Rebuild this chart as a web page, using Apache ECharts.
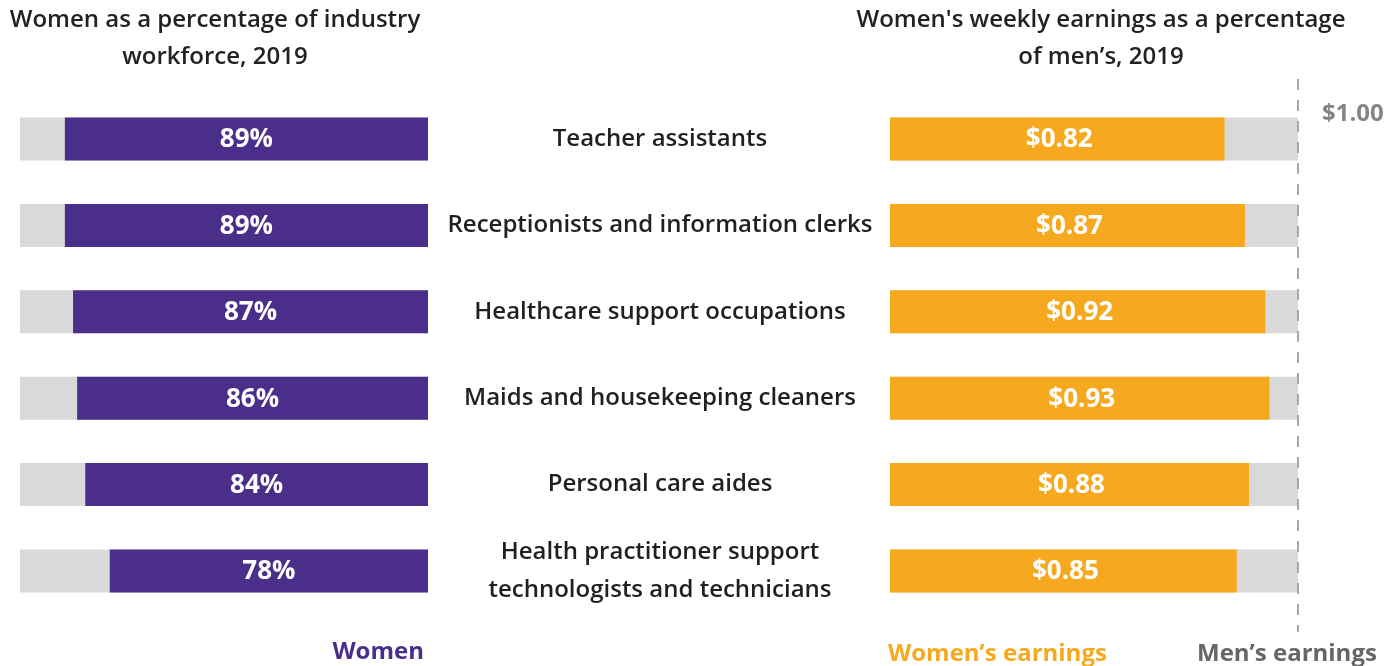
<!DOCTYPE html>
<html>
<head>
<meta charset="utf-8">
<script src="https://cdn.jsdelivr.net/npm/echarts@6/dist/echarts.min.js"></script>
<style>
html,body{margin:0;padding:0;background:#fff;}
#chart{width:1400px;height:666px;}
</style>
</head>
<body>
<div id="chart"></div>
<script>
const categories = [
  'Teacher assistants',
  'Receptionists and information clerks',
  'Healthcare support occupations',
  'Maids and housekeeping cleaners',
  'Personal care aides',
  'Health practitioner support\ntechnologists and technicians'
];
const womenPct = [89, 89, 87, 86, 84, 78];
const womenEarnings = [0.82, 0.87, 0.92, 0.93, 0.88, 0.85];
const menEarnings = [1, 1, 1, 1, 1, 1];
const menValue = 1.00;

const FONT = "'Open Sans', sans-serif";
const PURPLE = '#4a2e89';
const ORANGE = '#f6a91f';
const GRAY = '#d9d9d9';

const chart = echarts.init(document.getElementById('chart'));
const barLabel = {
  show: true, position: 'inside', color: '#fff',
  fontFamily: FONT, fontWeight: 'bold', fontSize: 26
};
chart.setOption({
  animation: false,
  textStyle: { fontFamily: FONT },
  title: [
    { text: 'Women as a percentage of industry\nworkforce, 2019', left: 215, top: 2, padding: 0, textAlign: 'center',
      textStyle: { fontFamily: FONT, fontWeight: 600, fontSize: 24, lineHeight: 37, color: '#222' } },
    { text: "Women's weekly earnings as a percentage\nof men’s, 2019", left: 1101, top: 2, padding: 0, textAlign: 'center',
      textStyle: { fontFamily: FONT, fontWeight: 600, fontSize: 24, lineHeight: 37, color: '#222' } }
  ],
  legend: [
    { data: [{ name: 'Women', textStyle: { color: PURPLE } }], right: 976, top: 640, padding: 0,
      itemWidth: 0, itemHeight: 0, icon: 'none', selectedMode: false,
      textStyle: { fontFamily: FONT, fontWeight: 'bold', fontSize: 24 } },
    { data: [{ name: 'Women’s earnings', textStyle: { color: ORANGE } }], left: 883, top: 642, padding: 0,
      itemWidth: 0, itemHeight: 0, icon: 'none', selectedMode: false,
      textStyle: { fontFamily: FONT, fontWeight: 'bold', fontSize: 24 } },
    { data: [{ name: 'Men’s earnings', textStyle: { color: '#666' } }], left: 1192, top: 642, padding: 0,
      itemWidth: 0, itemHeight: 0, icon: 'none', selectedMode: false,
      textStyle: { fontFamily: FONT, fontWeight: 'bold', fontSize: 24 } }
  ],
  grid: [
    { left: 20, right: 972, top: 95.8, bottom: 51.8 },
    { left: 890, right: 102, top: 95.8, bottom: 51.8 },
    { left: 890, right: 102, top: 79, bottom: 34 }
  ],
  xAxis: [
    { gridIndex: 0, type: 'value', min: 0, max: 100, inverse: true, show: false },
    { gridIndex: 1, type: 'value', min: 0, max: 1, show: false },
    { gridIndex: 2, type: 'value', min: 0, max: 1, interval: 1, z: 10,
      axisLine: { show: false }, axisTick: { show: false }, axisLabel: { show: false },
      splitLine: { show: true, lineStyle: { color: ['rgba(0,0,0,0)', '#a8a8a8'], type: [11, 10], width: 2 } } }
  ],
  yAxis: [
    { gridIndex: 0, type: 'category', data: categories, inverse: true, position: 'right',
      axisLine: { show: false }, axisTick: { show: false }, splitLine: { show: false },
      axisLabel: { margin: 232, align: 'center', fontFamily: FONT, fontWeight: 600, fontSize: 24,
        lineHeight: 38, color: '#231f20', padding: [10, 0, 0, 0] } },
    { gridIndex: 1, type: 'category', data: categories, inverse: true, show: false },
    { gridIndex: 2, type: 'value', min: 0, max: 1, show: false }
  ],
  series: [
    { name: 'Women', type: 'bar', xAxisIndex: 0, yAxisIndex: 0, data: womenPct, barWidth: 43,
      itemStyle: { color: PURPLE }, showBackground: true, backgroundStyle: { color: GRAY },
      label: Object.assign({}, barLabel, { formatter: p => p.value + '%', offset: [0, 1] }) },
    { name: 'Men’s earnings', type: 'bar', xAxisIndex: 1, yAxisIndex: 1, data: menEarnings, barWidth: 43,
      itemStyle: { color: GRAY } },
    { name: 'Women’s earnings', type: 'bar', xAxisIndex: 1, yAxisIndex: 1, data: womenEarnings, barWidth: 43,
      barGap: '-100%', itemStyle: { color: ORANGE },
      label: Object.assign({}, barLabel, { formatter: p => '$' + p.value.toFixed(2), offset: [2, 1] }) },
    { name: 'ref', type: 'scatter', xAxisIndex: 1, yAxisIndex: 1, symbolSize: 0, z: 11,
      data: [[menValue, categories[0]]],
      label: { show: true, position: 'right', distance: 24, offset: [0, -25],
        formatter: p => '$' + p.value[0].toFixed(2),
        color: '#666', fontFamily: FONT, fontWeight: 'bold', fontSize: 24 } },
    { name: 'line', type: 'scatter', xAxisIndex: 2, yAxisIndex: 2, data: [] }
  ]
});
</script>
</body>
</html>
